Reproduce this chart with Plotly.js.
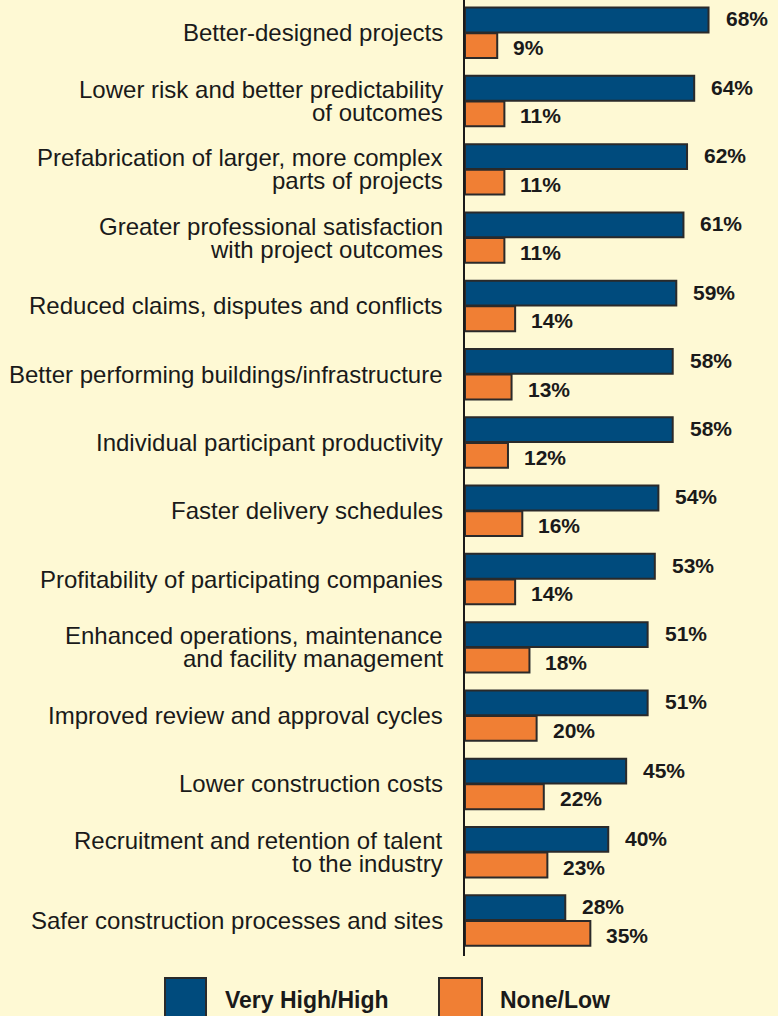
<!DOCTYPE html>
<html>
<head>
<meta charset="utf-8">
<script src="https://cdn.plot.ly/plotly-3.0.1.min.js"></script>
<style>
  html, body { margin: 0; padding: 0; background: #FEF9D4; }
  #chart { width: 778px; height: 1016px; }
</style>
</head>
<body>
<div id="chart"></div>
<script>
// ---- data ----
const categories = [
  "Better-designed projects",
  "Lower risk and better predictability<br>of outcomes",
  "Prefabrication of larger, more complex<br>parts of projects",
  "Greater professional satisfaction<br>with project outcomes",
  "Reduced claims, disputes and conflicts",
  "Better performing buildings/infrastructure",
  "Individual participant productivity",
  "Faster delivery schedules",
  "Profitability of participating companies",
  "Enhanced operations, maintenance<br>and facility management",
  "Improved review and approval cycles",
  "Lower construction costs",
  "Recruitment and retention of talent<br>to the industry",
  "Safer construction processes and sites"
];
const veryHighHigh = [68, 64, 62, 61, 59, 58, 58, 54, 53, 51, 51, 45, 40, 28];
const noneLow      = [9, 11, 11, 11, 14, 13, 12, 16, 14, 18, 20, 22, 23, 35];
const seriesNames  = ["Very High/High", "None/Low"];

// ---- styles ----
const BLUE = "#004B7D";
const ORANGE = "#F07F34";
const OUTLINE = "#2A2A2A";
const BG = "#FEF9D4";
const TEXT = "#1A1A1A";
const FONT = "'Liberation Sans', Arial, Helvetica, sans-serif";

const BARGAP = 0.25;
const GROUPGAP = 0.03;
const halfOffset = (1 - BARGAP) / 4; // centre of each bar relative to category centre

const traces = [
  {
    type: "bar", orientation: "h", name: seriesNames[0],
    y: categories, x: veryHighHigh,
    marker: { color: BLUE, line: { color: OUTLINE, width: 2 } },
    hoverinfo: "skip", showlegend: false
  },
  {
    type: "bar", orientation: "h", name: seriesNames[1],
    y: categories, x: noneLow,
    marker: { color: ORANGE, line: { color: OUTLINE, width: 2 } },
    hoverinfo: "skip", showlegend: false
  }
];

const annotations = [];
// value labels
categories.forEach((c, i) => {
  annotations.push({
    x: veryHighHigh[i], y: i - halfOffset, xref: "x", yref: "y",
    text: veryHighHigh[i] + "%", showarrow: false,
    xanchor: "left", yanchor: "middle", xshift: 15, yshift: 1,
    font: { family: FONT, size: 21, color: TEXT, weight: "bold" }
  });
  annotations.push({
    x: noneLow[i], y: i + halfOffset, xref: "x", yref: "y",
    text: noneLow[i] + "%", showarrow: false,
    xanchor: "left", yanchor: "middle", xshift: 14, yshift: -2,
    font: { family: FONT, size: 21, color: TEXT, weight: "bold" }
  });
});
// category labels (one annotation per line for the tight leading of the original)
const LINE = 23;
categories.forEach((c, i) => {
  const lines = c.split("<br>");
  lines.forEach((ln, k) => {
    const shift = ((lines.length - 1) / 2 - k) * LINE;
    annotations.push({
      x: 0, y: i, xref: "paper", yref: "y",
      text: ln, showarrow: false,
      xanchor: "right", yanchor: "middle", xshift: -20, yshift: shift,
      font: { family: FONT, size: 24, color: TEXT }
    });
  });
});

// legend (drawn in paper coordinates)
const W = 313, H = 956;
const px = v => (v - 465) / W;
const py = v => (H - v) / H;
const legendItems = [
  { color: BLUE, box: [165, 206], textX: 223 },
  { color: ORANGE, box: [439, 482], textX: 498 }
];
const shapes = [];
legendItems.forEach((it, k) => {
  shapes.push({
    type: "rect", xref: "paper", yref: "paper",
    x0: px(it.box[0]), x1: px(it.box[1]), y0: py(978), y1: py(1040),
    fillcolor: it.color, line: { color: OUTLINE, width: 2 }
  });
  annotations.push({
    x: px(it.textX), y: py(1000), xref: "paper", yref: "paper",
    text: seriesNames[k], showarrow: false,
    xanchor: "left", yanchor: "middle",
    font: { family: FONT, size: 23, color: TEXT, weight: "bold" }
  });
});

const layout = {
  width: 778, height: 1016,
  margin: { l: 465, r: 0, t: 0, b: 60, pad: 0 },
  paper_bgcolor: BG, plot_bgcolor: BG,
  barmode: "group", bargap: BARGAP, bargroupgap: GROUPGAP,
  showlegend: false,
  xaxis: {
    range: [0, 87.4], showgrid: false, zeroline: false,
    showticklabels: false, showline: false, ticks: "", fixedrange: true
  },
  yaxis: {
    type: "category", categoryorder: "array", categoryarray: categories,
    range: [13.52, -0.48], showgrid: false, zeroline: false,
    showticklabels: false, ticks: "",
    showline: true, linecolor: "#1A1A1A", linewidth: 2, fixedrange: true
  },
  annotations: annotations,
  shapes: shapes
};

Plotly.newPlot("chart", traces, layout, { staticPlot: true, displayModeBar: false });
</script>
</body>
</html>
